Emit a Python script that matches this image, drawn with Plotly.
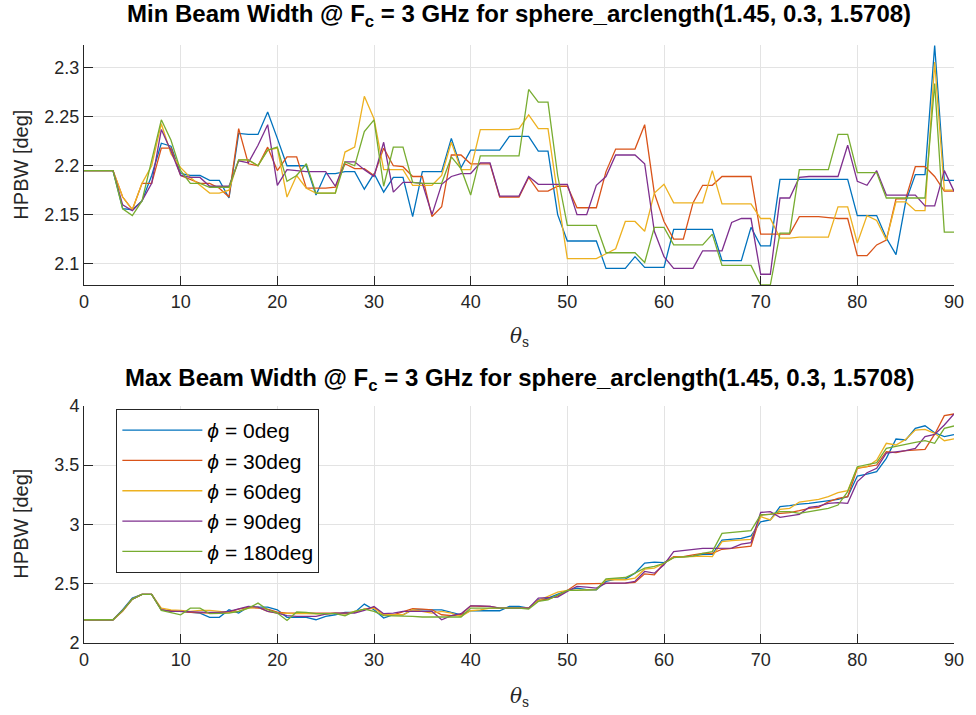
import plotly.graph_objects as go

theta = list(range(0, 91))
phi_labels = ["0deg", "30deg", "60deg", "90deg", "180deg"]
colors = ["#0072BD", "#D95319", "#EDB120", "#7E2F8E", "#77AC30"]

# ---- Min beam width (top) ----
min_phi0 = [2.195, 2.195, 2.195, 2.195, 2.156, 2.155, 2.164, 2.19, 2.223, 2.22,
            2.192, 2.19, 2.19, 2.185, 2.185, 2.167, 2.233, 2.232, 2.232, 2.255,
            2.228, 2.2, 2.2, 2.2, 2.17, 2.192, 2.192, 2.194, 2.194, 2.176,
            2.192, 2.173, 2.188, 2.188, 2.148, 2.194, 2.194, 2.194, 2.228, 2.198,
            2.216, 2.216, 2.216, 2.216, 2.23, 2.23, 2.23, 2.215, 2.215, 2.15,
            2.123, 2.123, 2.123, 2.123, 2.095, 2.095, 2.095, 2.107, 2.096, 2.096,
            2.096, 2.135, 2.135, 2.135, 2.135, 2.135, 2.103, 2.103, 2.103, 2.137,
            2.118, 2.118, 2.186, 2.186, 2.186, 2.186, 2.186, 2.186, 2.186, 2.186,
            2.149, 2.149, 2.149, 2.126, 2.109, 2.163, 2.191, 2.191, 2.323, 2.185,
            2.185]
min_phi30 = [2.195, 2.195, 2.195, 2.195, 2.168, 2.155, 2.182, 2.182, 2.218, 2.218,
             2.19, 2.186, 2.182, 2.182, 2.177, 2.168, 2.238, 2.202, 2.2, 2.219,
             2.195, 2.209, 2.209, 2.177, 2.177, 2.177, 2.178, 2.202, 2.197, 2.197,
             2.19, 2.218, 2.2, 2.199, 2.189, 2.189, 2.148, 2.158, 2.211, 2.211,
             2.202, 2.202, 2.202, 2.168, 2.168, 2.168, 2.188, 2.174, 2.174, 2.179,
             2.179, 2.157, 2.157, 2.157, 2.194, 2.217, 2.217, 2.217, 2.242, 2.172,
             2.143, 2.125, 2.125, 2.162, 2.18, 2.18, 2.189, 2.189, 2.189, 2.189,
             2.13, 2.13, 2.13, 2.13, 2.148, 2.148, 2.148, 2.147, 2.146, 2.146,
             2.108, 2.108, 2.119, 2.124, 2.166, 2.166, 2.199, 2.199, 2.189, 2.174,
             2.174]
min_phi60 = [2.195, 2.195, 2.195, 2.195, 2.168, 2.155, 2.182, 2.2, 2.243, 2.212,
             2.198, 2.188, 2.18, 2.172, 2.172, 2.175, 2.206, 2.206, 2.2, 2.216,
             2.218, 2.168, 2.19, 2.177, 2.172, 2.172, 2.172, 2.214, 2.219, 2.271,
             2.248, 2.196, 2.196, 2.196, 2.18, 2.18, 2.18, 2.19, 2.224, 2.196,
             2.196, 2.237, 2.237, 2.237, 2.237, 2.238, 2.252, 2.238, 2.238, 2.17,
             2.105, 2.105, 2.105, 2.105, 2.11, 2.115, 2.143, 2.143, 2.133, 2.172,
             2.181, 2.162, 2.162, 2.162, 2.162, 2.195, 2.161, 2.161, 2.161, 2.161,
             2.146, 2.146, 2.126, 2.126, 2.127, 2.127, 2.127, 2.127, 2.158, 2.158,
             2.121, 2.149, 2.144, 2.124, 2.163, 2.163, 2.154, 2.154, 2.306, 2.175,
             2.175]
min_phi90 = [2.195, 2.195, 2.195, 2.195, 2.16, 2.154, 2.164, 2.182, 2.237, 2.215,
             2.19, 2.188, 2.188, 2.179, 2.179, 2.179, 2.205, 2.203, 2.221, 2.242,
             2.18, 2.196, 2.195, 2.194, 2.194, 2.194, 2.179, 2.204, 2.204, 2.196,
             2.189, 2.224, 2.173, 2.183, 2.183, 2.182, 2.15, 2.181, 2.189, 2.192,
             2.192, 2.203, 2.203, 2.169, 2.169, 2.169, 2.189, 2.181, 2.181, 2.181,
             2.181, 2.15, 2.15, 2.18, 2.189, 2.211, 2.211, 2.211, 2.202, 2.133,
             2.107, 2.095, 2.095, 2.095, 2.113, 2.113, 2.113, 2.142, 2.146, 2.146,
             2.089, 2.089, 2.167, 2.167, 2.188, 2.189, 2.189, 2.189, 2.189, 2.221,
             2.184, 2.18, 2.195, 2.17, 2.17, 2.17, 2.17, 2.159, 2.159, 2.195,
             2.174]
min_phi180 = [2.195, 2.195, 2.195, 2.195, 2.156, 2.149, 2.164, 2.205, 2.247, 2.226,
              2.195, 2.182, 2.182, 2.178, 2.178, 2.178, 2.206, 2.206, 2.2, 2.216,
              2.219, 2.184, 2.19, 2.202, 2.172, 2.172, 2.172, 2.204, 2.2, 2.235,
              2.247, 2.179, 2.219, 2.219, 2.183, 2.182, 2.182, 2.182, 2.209, 2.197,
              2.17, 2.21, 2.21, 2.21, 2.21, 2.21, 2.278, 2.265, 2.265, 2.19,
              2.139, 2.139, 2.139, 2.139, 2.111, 2.111, 2.111, 2.111, 2.101, 2.137,
              2.137, 2.119, 2.119, 2.119, 2.119, 2.13, 2.098, 2.098, 2.098, 2.098,
              2.078, 2.078, 2.131, 2.131, 2.196, 2.196, 2.196, 2.196, 2.232, 2.232,
              2.193, 2.193, 2.193, 2.167, 2.167, 2.167, 2.167, 2.167, 2.284, 2.132,
              2.132]

# ---- Max beam width (bottom) ----
max_phi0 = [2.196, 2.196, 2.196, 2.196, 2.28, 2.378, 2.41, 2.41, 2.28, 2.266,
            2.266, 2.258, 2.252, 2.216, 2.216, 2.28, 2.252, 2.303, 2.3, 2.303,
            2.28, 2.216, 2.216, 2.216, 2.196, 2.224, 2.238, 2.258, 2.258, 2.328,
            2.28, 2.21, 2.238, 2.238, 2.28, 2.28, 2.28, 2.28, 2.258, 2.238,
            2.272, 2.272, 2.272, 2.272, 2.308, 2.308, 2.294, 2.364, 2.379, 2.412,
            2.443, 2.463, 2.449, 2.449, 2.519, 2.538, 2.538, 2.589, 2.673, 2.682,
            2.677, 2.722, 2.727, 2.733, 2.747, 2.747, 2.868, 2.874, 2.882, 2.902,
            3.022, 3.037, 3.149, 3.157, 3.171, 3.177, 3.188, 3.2, 3.211, 3.233,
            3.407, 3.424, 3.444, 3.556, 3.719, 3.711, 3.809, 3.831, 3.772, 3.739,
            3.756]
max_phi30 = [2.196, 2.196, 2.196, 2.196, 2.27, 2.37, 2.41, 2.41, 2.28, 2.275,
             2.266, 2.258, 2.252, 2.252, 2.252, 2.261, 2.286, 2.3, 2.294, 2.286,
             2.261, 2.252, 2.252, 2.252, 2.252, 2.252, 2.252, 2.252, 2.261, 2.286,
             2.3, 2.238, 2.238, 2.266, 2.289, 2.286, 2.28, 2.238, 2.23, 2.238,
             2.313, 2.308, 2.308, 2.294, 2.294, 2.294, 2.294, 2.358, 2.37, 2.397,
             2.443, 2.499, 2.499, 2.499, 2.505, 2.505, 2.505, 2.511, 2.583, 2.575,
             2.672, 2.728, 2.727, 2.742, 2.756, 2.756, 2.79, 2.798, 2.806, 2.817,
             3.079, 3.084, 3.093, 3.098, 3.115, 3.135, 3.143, 3.19, 3.219, 3.233,
             3.472, 3.486, 3.5, 3.612, 3.604, 3.621, 3.626, 3.632, 3.76, 3.916,
             3.93]
max_phi60 = [2.196, 2.196, 2.196, 2.196, 2.27, 2.37, 2.41, 2.41, 2.294, 2.28,
             2.275, 2.266, 2.275, 2.275, 2.266, 2.258, 2.266, 2.294, 2.3, 2.266,
             2.252, 2.247, 2.247, 2.247, 2.247, 2.244, 2.252, 2.244, 2.266, 2.28,
             2.294, 2.238, 2.238, 2.238, 2.28, 2.266, 2.252, 2.266, 2.252, 2.224,
             2.272, 2.28, 2.294, 2.294, 2.294, 2.294, 2.294, 2.358, 2.393, 2.428,
             2.443, 2.443, 2.443, 2.449, 2.533, 2.533, 2.533, 2.547, 2.622, 2.631,
             2.672, 2.722, 2.727, 2.733, 2.733, 2.728, 2.854, 2.862, 2.868, 2.874,
             3.065, 3.037, 3.126, 3.135, 3.188, 3.2, 3.211, 3.233, 3.267, 3.284,
             3.478, 3.486, 3.542, 3.683, 3.669, 3.716, 3.795, 3.8, 3.767, 3.705,
             3.72]
max_phi90 = [2.196, 2.196, 2.196, 2.196, 2.275, 2.37, 2.41, 2.41, 2.28, 2.266,
             2.266, 2.261, 2.261, 2.258, 2.258, 2.266, 2.289, 2.308, 2.303, 2.266,
             2.252, 2.23, 2.224, 2.224, 2.224, 2.244, 2.252, 2.252, 2.252, 2.275,
             2.308, 2.247, 2.252, 2.266, 2.266, 2.266, 2.266, 2.196, 2.23, 2.247,
             2.313, 2.313, 2.308, 2.294, 2.294, 2.294, 2.294, 2.379, 2.384, 2.387,
             2.435, 2.477, 2.471, 2.463, 2.505, 2.505, 2.505, 2.52, 2.603, 2.589,
             2.66, 2.77, 2.778, 2.789, 2.798, 2.798, 2.8, 2.8, 2.834, 2.845,
             3.1, 3.107, 3.059, 3.07, 3.084, 3.143, 3.154, 3.177, 3.183, 3.177,
             3.36, 3.435, 3.472, 3.6, 3.612, 3.621, 3.64, 3.739, 3.758, 3.837,
             3.93]
max_phi180 = [2.196, 2.196, 2.196, 2.196, 2.275, 2.37, 2.41, 2.41, 2.275, 2.258,
              2.238, 2.294, 2.294, 2.247, 2.252, 2.252, 2.266, 2.294, 2.336, 2.28,
              2.252, 2.19, 2.261, 2.258, 2.247, 2.247, 2.247, 2.23, 2.266, 2.286,
              2.266, 2.23, 2.23, 2.224, 2.224, 2.219, 2.219, 2.219, 2.219, 2.219,
              2.294, 2.294, 2.294, 2.294, 2.294, 2.294, 2.286, 2.35, 2.364, 2.406,
              2.443, 2.443, 2.443, 2.449, 2.54, 2.547, 2.552, 2.589, 2.631, 2.645,
              2.672, 2.72, 2.727, 2.733, 2.756, 2.77, 2.924, 2.933, 2.938, 2.947,
              3.079, 3.084, 3.107, 3.107, 3.093, 3.107, 3.121, 3.135, 3.163, 3.275,
              3.486, 3.5, 3.52, 3.64, 3.654, 3.674, 3.69, 3.705, 3.683, 3.809,
              3.829]

min_series = [min_phi0, min_phi30, min_phi60, min_phi90, min_phi180]
max_series = [max_phi0, max_phi30, max_phi60, max_phi90, max_phi180]

x_ticks = [0, 10, 20, 30, 40, 50, 60, 70, 80, 90]
x_ticklabels = ["0", "10", "20", "30", "40", "50", "60", "70", "80", "90"]
top_yticks = [2.1, 2.15, 2.2, 2.25, 2.3]
top_yticklabels = ["2.1", "2.15", "2.2", "2.25", "2.3"]
bot_yticks = [2, 2.5, 3, 3.5, 4]
bot_yticklabels = ["2", "2.5", "3", "3.5", "4"]

FONT = "Liberation Sans, Arial, Helvetica, sans-serif"
AX = "#262626"

fig = go.Figure()
for vals, lab, c in zip(min_series, phi_labels, colors):
    fig.add_trace(go.Scatter(x=theta, y=vals, mode="lines", xaxis="x", yaxis="y",
                             line=dict(color=c, width=1.3), showlegend=False,
                             name="<i>ϕ</i> = " + lab))
for vals, lab, c in zip(max_series, phi_labels, colors):
    fig.add_trace(go.Scatter(x=theta, y=vals, mode="lines", xaxis="x2", yaxis="y2",
                             line=dict(color=c, width=1.3), showlegend=True,
                             name="<i>ϕ</i> = " + lab))

PL, PR, PT, PB = 84, 13, 45, 72
W, H = 976, 715
ph = H - PT - PB
pw = W - PL - PR


def py(px):
    return (H - PB - px) / ph


def pxx(px):
    return (px - PL) / pw


axis_common = dict(showline=True, linecolor=AX, linewidth=1, ticks="inside",
                   ticklen=9, tickcolor=AX, showgrid=True, gridcolor="#e3e3e3",
                   gridwidth=1, zeroline=False, mirror=False,
                   tickfont=dict(family=FONT, size=18, color=AX))

fig.update_layout(
    width=W, height=H,
    margin=dict(l=PL, r=PR, t=PT, b=PB),
    paper_bgcolor="white", plot_bgcolor="white",
    font=dict(family=FONT, color=AX),
    xaxis=dict(domain=[0, 1], range=[0, 90], tickvals=x_ticks, ticktext=x_ticklabels,
               anchor="y", **axis_common),
    yaxis=dict(domain=[py(285), 1], range=[2.078, 2.3235], tickvals=top_yticks,
               ticktext=top_yticklabels, anchor="x", **axis_common),
    xaxis2=dict(domain=[0, 1], range=[0, 90], tickvals=x_ticks, ticktext=x_ticklabels,
                anchor="y2", **axis_common),
    yaxis2=dict(domain=[0, py(405.7)], range=[2, 4], tickvals=bot_yticks,
                ticktext=bot_yticklabels, anchor="x2", **axis_common),
    legend=dict(x=pxx(116.7), y=py(409), xanchor="left", yanchor="top",
                bgcolor="white", bordercolor=AX, borderwidth=1,
                font=dict(family=FONT, size=21, color="black"),
                itemwidth=80, tracegroupgap=0),
)

title_txt = "Min Beam Width @ F<sub>c</sub> = 3 GHz for sphere_arclength(1.45, 0.3, 1.5708)"
title_txt2 = "Max Beam Width @ F<sub>c</sub> = 3 GHz for sphere_arclength(1.45, 0.3, 1.5708)"
annotations = []
for txt, yy in ((title_txt, py(15)), (title_txt2, py(379))):
    annotations.append(dict(text="<b>" + txt + "</b>", x=0.5, y=yy, xref="paper",
                            yref="paper", xanchor="center", yanchor="middle",
                            showarrow=False,
                            font=dict(family=FONT, size=24, color="black")))
for yy in (py(337), py(697)):
    annotations.append(dict(text="<i>θ</i><sub>s</sub>", x=0.5, y=yy, xref="paper",
                            yref="paper", xanchor="center", yanchor="middle",
                            showarrow=False,
                            font=dict(family="DejaVu Serif, serif", size=20, color=AX)))
for yy in (py(165), py(524)):
    annotations.append(dict(text="HPBW [deg]", x=pxx(20), y=yy, xref="paper",
                            yref="paper", xanchor="center", yanchor="middle",
                            textangle=-90, showarrow=False,
                            font=dict(family=FONT, size=20, color=AX)))
fig.update_layout(annotations=annotations)

fig.write_html("out.html")
